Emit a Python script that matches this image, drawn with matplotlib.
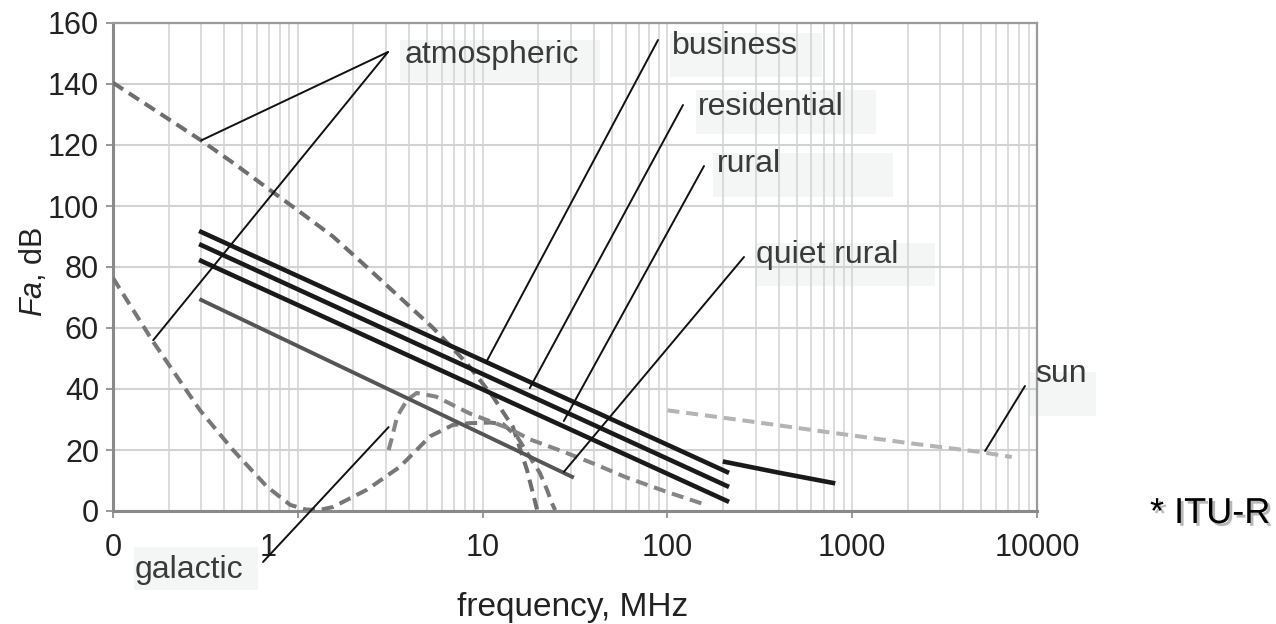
import matplotlib
matplotlib.use("Agg")
import matplotlib.pyplot as plt
import matplotlib.patheffects as pe
import matplotlib.transforms as mtransforms
from matplotlib.patches import Rectangle
from matplotlib.ticker import FixedLocator, LogLocator, NullFormatter

plt.rcParams['font.family'] = ['Liberation Sans', 'DejaVu Sans']
plt.rcParams['mathtext.fontset'] = 'custom'
plt.rcParams['mathtext.it'] = 'Liberation Sans:italic'
plt.rcParams['mathtext.rm'] = 'Liberation Sans'

# données (fréquence en MHz, Fa en dB)
atmo_hi_f = [0.1, 0.3, 0.45, 0.68, 1.03, 1.55, 2.36, 3.57, 5.4, 8.2, 11.4, 14.6, 17.4, 19.7]
atmo_hi_y = [140.4, 121.5, 114, 106, 98, 90, 80, 70, 60, 48.5, 37.4, 27.5, 13.4, 0.5]

atmo_lo_f = [0.1, 0.164, 0.296, 0.446, 0.68, 0.91, 1.1, 1.3, 1.55, 2.37, 3.57, 5.2, 6.9, 8.5, 11, 12.9, 15.4, 18, 20.4, 22.3, 23.7, 24.7]
atmo_lo_y = [76.4, 55.7, 33, 20, 8, 2, 0.5, 0.3, 1.3, 7, 14.5, 24.5, 28.2, 28.8, 29, 28.5, 24.3, 17.7, 12.5, 7, 2.6, 0.3]

galac_f = [3.1, 3.2, 3.45, 3.9, 4.4, 5.6, 8.5, 14, 18, 27.2, 40, 60, 100, 162]
galac_y = [20, 23, 31, 36.4, 38.7, 37.5, 32, 27, 23.5, 19.5, 15.5, 11, 6.2, 2.0]

sun_f = [100, 250, 670, 2000, 5000, 7300]
sun_y = [33, 29.8, 26.2, 22.3, 19.3, 17.7]

man_f = [0.3, 210]
business_y = [91.5, 12.8]
residential_y = [87.2, 8.2]
rural_y = [82, 3.3]

quiet_f = [0.3, 30.5]
quiet_y = [69.2, 11.2]

short_f = [205, 406, 787]
short_y = [16.1, 12.5, 9.2]

xticks = [0.1, 1, 10, 100, 1000, 10000]
xticklabels = ['0', '1', '10', '100', '1000', '10000']
yticks = [0, 20, 40, 60, 80, 100, 120, 140, 160]

# étiquettes : texte, point visé sur la courbe, départ du trait (pixels), position du texte, boîte
labels = [
    ('atmospheric', [(0.3, 121.5), (0.165, 56)], (388, 52), (405, 63), (400, 40, 200, 42)),
    ('business', [(10.5, 49)], (658, 40), (672, 54), (670, 33, 152, 44)),
    ('residential', [(18, 40.3)], (683, 105), (698, 115), (696, 90, 180, 44)),
    ('rural', [(27.5, 29.5)], (704, 166), (717, 172), (713, 153, 180, 44)),
    ('quiet rural', [(27.5, 12.8)], (744, 257), (756, 263), (756, 243, 179, 43)),
    ('galactic', [(3.1, 27.5)], (263, 562), (135, 578), (134, 547, 124, 43)),
    ('sun', [(5240, 19.7)], (1025, 386), (1035, 382), (1030, 372, 66, 44)),
]

W, H = 1276, 624
fig = plt.figure(figsize=(W / 100, H / 100), dpi=100)
ax = fig.add_axes([113 / W, 1 - 511 / H, (1037 - 113) / W, (511 - 23) / H])
ax.set_facecolor('none')

ax.set_xscale('log')
ax.set_xlim(0.1, 10000)
ax.set_ylim(0, 160)

grid_c = '#d2d2d2'
ax.xaxis.set_major_locator(FixedLocator(xticks))
ax.xaxis.set_minor_locator(LogLocator(base=10, subs=range(2, 10), numticks=20))
ax.xaxis.set_minor_formatter(NullFormatter())
ax.set_xticklabels(xticklabels)
ax.set_yticks(yticks)
ax.grid(True, which='both', axis='x', color=grid_c, lw=1.1, zorder=0)
ax.grid(True, which='major', axis='y', color=grid_c, lw=1.5, zorder=0)
ax.set_axisbelow(True)

ax.tick_params(axis='x', which='minor', length=0)
ax.tick_params(axis='both', which='major', labelsize=22, colors='#888888',
               labelcolor='#222222', length=5, width=1.2)
ax.tick_params(axis='x', which='major', pad=11)
ax.tick_params(axis='y', which='major', pad=5)

# le « 1 » est décalé à gauche dans l'original
lab1 = ax.get_xticklabels()[1]
lab1.set_transform(lab1.get_transform() + mtransforms.ScaledTranslation(-0.30, 0, fig.dpi_scale_trans))

for s in ['left', 'bottom']:
    ax.spines[s].set_color('#8a8a8a')
    ax.spines[s].set_linewidth(2.2)
for s in ['top', 'right']:
    ax.spines[s].set_color('#9a9a9a')
    ax.spines[s].set_linewidth(1.6)

dash = (0, (3.0, 1.7))
ax.plot(atmo_hi_f, atmo_hi_y, color='#6e6e6e', lw=2.9, ls=dash, zorder=3)
ax.plot(atmo_lo_f, atmo_lo_y, color='#777777', lw=2.9, ls=dash, zorder=3)
ax.plot(galac_f, galac_y, color='#858585', lw=2.9, ls=dash, zorder=3)
ax.plot(sun_f, sun_y, color='#b4b4b4', lw=2.9, ls=dash, zorder=3)

ax.plot(man_f, business_y, color='#1a1a1a', lw=3.3, zorder=4)
ax.plot(man_f, residential_y, color='#1a1a1a', lw=3.3, zorder=4)
ax.plot(man_f, rural_y, color='#1a1a1a', lw=3.3, zorder=4)
ax.plot(quiet_f, quiet_y, color='#555555', lw=2.8, zorder=4)
ax.plot(short_f, short_y, color='#1a1a1a', lw=3.3, zorder=4)

for text, targets, start, tpos, box in labels:
    bx, by, bw, bh = box
    fig.patches.append(Rectangle((bx / W, 1 - (by + bh) / H), bw / W, bh / H,
                                 transform=fig.transFigure, facecolor='#f3f6f5',
                                 edgecolor='none', zorder=-1))
    fig.text(tpos[0] / W, 1 - tpos[1] / H, text, fontsize=23, color='#3a3a3a',
             ha='left', va='baseline')
    for tx, ty in targets:
        ax.annotate('', xy=(tx, ty), xycoords='data',
                    xytext=(start[0], H - start[1]), textcoords='figure pixels',
                    arrowprops=dict(arrowstyle='-', color='#111111', lw=1.4,
                                    shrinkA=0, shrinkB=0),
                    annotation_clip=False, zorder=5)

fig.text(573 / W, 1 - 616 / H, 'frequency, MHz', fontsize=24, color='#222222',
         ha='center', va='baseline')
fig.text(33 / W, 1 - 272 / H, r'$\mathit{Fa}$, dB', fontsize=22, color='#222222',
         rotation=90, ha='center', va='center')

fig.text(1150 / W, 1 - 523 / H, '* ITU-R', fontsize=26, color='black',
         ha='left', va='baseline',
         path_effects=[pe.withSimplePatchShadow(offset=(2, -2), shadow_rgbFace='#888888', alpha=0.6)])

fig.savefig('out.png', dpi=100, facecolor='white')
